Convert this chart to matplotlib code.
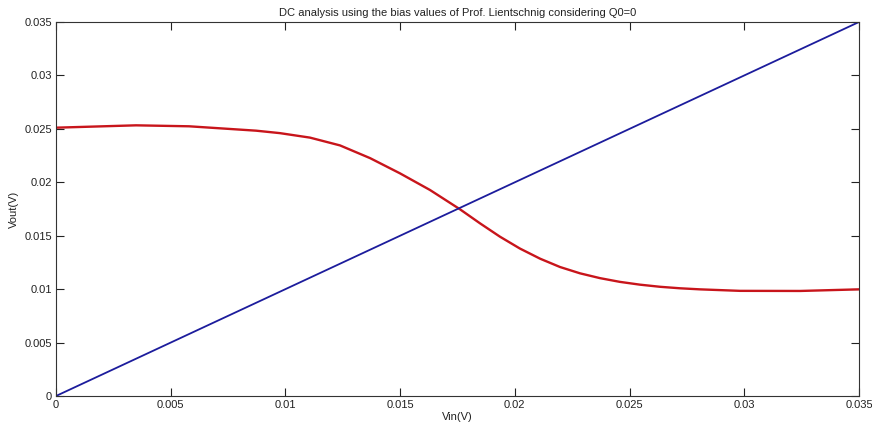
import matplotlib
matplotlib.use("Agg")
import matplotlib.pyplot as plt
from matplotlib.ticker import FuncFormatter, MultipleLocator

plt.rcParams['font.family'] = ['Liberation Sans', 'DejaVu Sans']

# Input sweep and measured output of the stage
vin = [0.0, 0.00349, 0.0058, 0.00872, 0.00976, 0.01107, 0.01238, 0.01369,
       0.01499, 0.0163, 0.01761, 0.01848, 0.01935, 0.02022, 0.0211,
       0.02197, 0.02284, 0.02371, 0.02458, 0.02545, 0.02633, 0.0272,
       0.02807, 0.02981, 0.03243, 0.035]
vout = [0.02511, 0.02533, 0.02524, 0.02483, 0.02460, 0.02418, 0.02345, 0.02226,
        0.02084, 0.01928, 0.01747, 0.01616, 0.01491, 0.01380, 0.01285,
        0.01207, 0.01148, 0.01103, 0.01068, 0.01042, 0.01022, 0.01008,
        0.00998, 0.00984, 0.00983, 0.00998]

# Reference line Vout = Vin
ref_x = [0.0, 0.035]
ref_y = [0.0, 0.035]

fig = plt.figure(figsize=(8.72, 4.26), dpi=100)
ax = fig.add_axes([56/872, 30/426, 803/872, 374/426])

ax.plot(vin, vout, color='#c8151b', linewidth=1.7, solid_joinstyle='round')
ax.plot(ref_x, ref_y, color='#1c1c9c', linewidth=1.3)

ax.set_xlim(0, 0.035)
ax.set_ylim(0, 0.035)
ax.xaxis.set_major_locator(MultipleLocator(0.005))
ax.yaxis.set_major_locator(MultipleLocator(0.005))
fmt = FuncFormatter(lambda v, p: f"{v:.3f}".rstrip('0').rstrip('.') if v != 0 else "0")
ax.xaxis.set_major_formatter(fmt)
ax.yaxis.set_major_formatter(fmt)

ax.tick_params(direction='in', length=6, width=0.8, top=True, right=True,
               labelsize=8, colors='#222222', pad=3)
for s in ax.spines.values():
    s.set_color('#333333')
    s.set_linewidth(0.8)

ax.set_title("DC analysis using the bias values of Prof. Lientschnig considering Q0=0",
             fontsize=8, color='#222222', pad=4)
ax.set_xlabel("Vin(V)", fontsize=8, color='#222222', labelpad=1)
ax.set_ylabel("Vout(V)", fontsize=8, color='#222222', labelpad=4)

fig.savefig("out.png", dpi=100)
